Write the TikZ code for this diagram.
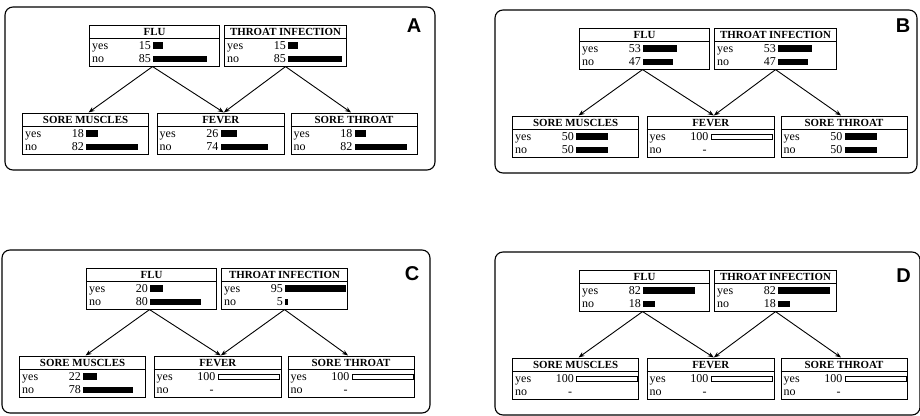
\documentclass[tikz,border=0pt]{standalone}
\usepackage{fontspec}
\setmainfont{Liberation Serif}
\newfontfamily\panelfont{Liberation Sans}
\usetikzlibrary{calc,arrows.meta}

\tikzset{
  varbox/.style={draw, line width=1.1pt, minimum height=41pt, inner sep=0pt, anchor=north west},
  vtitle/.style={font=\bfseries\fontsize{10.9}{12}\selectfont, anchor=base, inner sep=0pt},
  vlab/.style={font=\fontsize{12}{12}\selectfont, anchor=base west, inner sep=0pt},
  vnum/.style={font=\fontsize{12}{12}\selectfont, anchor=base east, inner sep=0pt},
  panel/.style={draw, line width=1.1pt, rounded corners=8pt},
  panelid/.style={font=\panelfont\bfseries\fontsize{20}{20}\selectfont, inner sep=0pt},
  link/.style={-{Stealth[length=6pt,width=4.5pt]}, line width=0.9pt},
}

% box with a title row
\newcommand{\varnode}[4]{%
  \node[varbox, minimum width=#3pt] (#1) at (#2) {};
  \draw[line width=0.9pt] ($(#1.north west)+(0,14)$) -- ($(#1.north east)+(0,14)$);
  \node[vtitle] at ($(#1.north)+(0,11)$) {#4};
}
% row with a filled bar
\newcommand{\barrow}[4]{%
  \node[vlab] at ($(#1.north west)+(3,11.25+13.5*#2)$) {#3};
  \node[vnum] at ($(#1.north west)+(62,11.25+13.5*#2)$) {#4};
  \fill ($(#1.north west)+(64,4.2+13.5*#2)$) rectangle ++(0.64*#4,6.5);
}
% row at 100, open bar
\newcommand{\fullrow}[3]{%
  \node[vlab] at ($(#1.north west)+(3,11.25+13.5*#2)$) {#3};
  \node[vnum] at ($(#1.north west)+(62,11.25+13.5*#2)$) {100};
  \draw[line width=0.9pt, fill=white] ($(#1.north west)+(64.5,5+13.5*#2)$) rectangle ++(61,5.5);
}
% row with no value
\newcommand{\nilrow}[3]{%
  \node[vlab] at ($(#1.north west)+(3,11.25+13.5*#2)$) {#3};
  \node[vlab, anchor=base] at ($(#1.north west)+(58,11.25+13.5*#2)$) {-};
}

\begin{document}
\begin{tikzpicture}[x=1pt, y=-1pt]
  \useasboundingbox (0,0) rectangle (920,415);

  % panel A
  \begin{scope}[shift={(5,7)}]
    \draw[panel] (0,0) rectangle (430,163);
    \node[panelid] (alab) at (409,19) {A};
    \varnode{aflu}{84,17.5}{130}{FLU}
    \barrow{aflu}{1}{yes}{15}
    \barrow{aflu}{2}{no}{85}
    \varnode{ati}{219,17.5}{122}{THROAT INFECTION}
    \barrow{ati}{1}{yes}{15}
    \barrow{ati}{2}{no}{85}
    \varnode{asm}{17,105.5}{126}{SORE MUSCLES}
    \barrow{asm}{1}{yes}{18}
    \barrow{asm}{2}{no}{82}
    \varnode{afev}{151.5,105.5}{127.5}{FEVER}
    \barrow{afev}{1}{yes}{26}
    \barrow{afev}{2}{no}{74}
    \varnode{ast}{285.5,105.5}{126}{SORE THROAT}
    \barrow{ast}{1}{yes}{18}
    \barrow{ast}{2}{no}{82}
    \draw[link] ([xshift=-2pt]aflu.south) -- ([xshift=3pt]asm.north);
    \draw[link] ([xshift=-2pt]aflu.south) -- ([xshift=3pt]afev.north);
    \draw[link] (ati.south) -- ([xshift=3pt]afev.north);
    \draw[link] (ati.south) -- ([xshift=-3pt]ast.north);
  \end{scope}

  % panel B
  \begin{scope}[shift={(495,10)}]
    \draw[panel] (0,0) rectangle (422,163);
    \node[panelid] (blab) at (408,16) {B};
    \varnode{bflu}{84,17.5}{130}{FLU}
    \barrow{bflu}{1}{yes}{53}
    \barrow{bflu}{2}{no}{47}
    \varnode{bti}{219,17.5}{122}{THROAT INFECTION}
    \barrow{bti}{1}{yes}{53}
    \barrow{bti}{2}{no}{47}
    \varnode{bsm}{17,105.5}{126}{SORE MUSCLES}
    \barrow{bsm}{1}{yes}{50}
    \barrow{bsm}{2}{no}{50}
    \varnode{bfev}{151.5,105.5}{127.5}{FEVER}
    \fullrow{bfev}{1}{yes}
    \nilrow{bfev}{2}{no}
    \varnode{bst}{285.5,105.5}{126}{SORE THROAT}
    \barrow{bst}{1}{yes}{50}
    \barrow{bst}{2}{no}{50}
    \draw[link] ([xshift=-2pt]bflu.south) -- ([xshift=3pt]bsm.north);
    \draw[link] ([xshift=-2pt]bflu.south) -- ([xshift=3pt]bfev.north);
    \draw[link] (bti.south) -- ([xshift=3pt]bfev.north);
    \draw[link] (bti.south) -- ([xshift=-3pt]bst.north);
  \end{scope}

  % panel C
  \begin{scope}[shift={(2,250)}]
    \draw[panel] (0,0) rectangle (428,163);
    \node[panelid] (clab) at (410,24) {C};
    \varnode{cflu}{84,17.5}{130}{FLU}
    \barrow{cflu}{1}{yes}{20}
    \barrow{cflu}{2}{no}{80}
    \varnode{cti}{219,17.5}{126}{THROAT INFECTION}
    \barrow{cti}{1}{yes}{95}
    \barrow{cti}{2}{no}{5}
    \varnode{csm}{17,105.5}{126}{SORE MUSCLES}
    \barrow{csm}{1}{yes}{22}
    \barrow{csm}{2}{no}{78}
    \varnode{cfev}{151.5,105.5}{127.5}{FEVER}
    \fullrow{cfev}{1}{yes}
    \nilrow{cfev}{2}{no}
    \varnode{cst}{285.5,105.5}{126}{SORE THROAT}
    \fullrow{cst}{1}{yes}
    \nilrow{cst}{2}{no}
    \draw[link] ([xshift=-2pt]cflu.south) -- ([xshift=3pt]csm.north);
    \draw[link] ([xshift=-2pt]cflu.south) -- ([xshift=3pt]cfev.north);
    \draw[link] (cti.south) -- ([xshift=3pt]cfev.north);
    \draw[link] (cti.south) -- ([xshift=-3pt]cst.north);
  \end{scope}

  % panel D
  \begin{scope}[shift={(495,252)}]
    \draw[panel] (0,0) rectangle (425,163);
    \node[panelid] (dlab) at (408.5,24) {D};
    \varnode{dflu}{84,17.5}{130}{FLU}
    \barrow{dflu}{1}{yes}{82}
    \barrow{dflu}{2}{no}{18}
    \varnode{dti}{219,17.5}{122}{THROAT INFECTION}
    \barrow{dti}{1}{yes}{82}
    \barrow{dti}{2}{no}{18}
    \varnode{dsm}{17,105.5}{126}{SORE MUSCLES}
    \fullrow{dsm}{1}{yes}
    \nilrow{dsm}{2}{no}
    \varnode{dfev}{151.5,105.5}{127.5}{FEVER}
    \fullrow{dfev}{1}{yes}
    \nilrow{dfev}{2}{no}
    \varnode{dst}{285.5,105.5}{126}{SORE THROAT}
    \fullrow{dst}{1}{yes}
    \nilrow{dst}{2}{no}
    \draw[link] ([xshift=-2pt]dflu.south) -- ([xshift=3pt]dsm.north);
    \draw[link] ([xshift=-2pt]dflu.south) -- ([xshift=3pt]dfev.north);
    \draw[link] (dti.south) -- ([xshift=3pt]dfev.north);
    \draw[link] (dti.south) -- ([xshift=-3pt]dst.north);
  \end{scope}
\end{tikzpicture}
\end{document}
